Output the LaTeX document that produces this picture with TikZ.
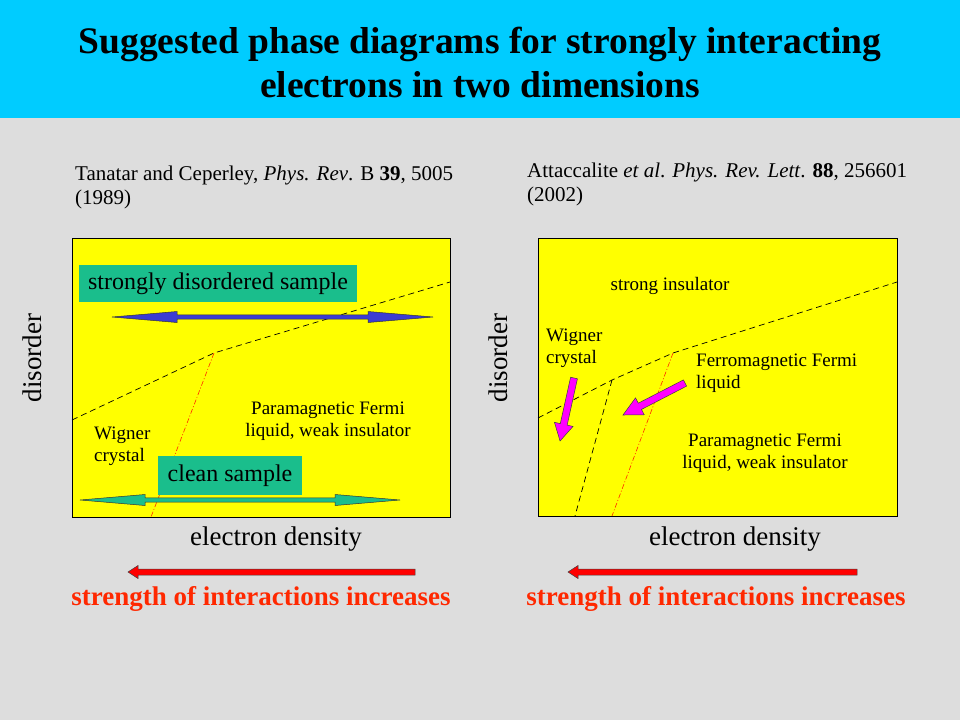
\documentclass[tikz,border=0pt]{standalone}
\usepackage{fontspec}
\setmainfont{Liberation Serif}
\usetikzlibrary{positioning}
\definecolor{bandBlue}{RGB}{0,204,255}
\definecolor{slideGray}{RGB}{221,221,221}
\definecolor{panelYellow}{RGB}{255,255,0}
\definecolor{tagGreen}{RGB}{26,190,140}
\definecolor{arrBlue}{RGB}{60,60,210}
\definecolor{arrMagenta}{RGB}{255,0,255}
\definecolor{arrRed}{RGB}{255,0,0}
\definecolor{hotRed}{RGB}{255,40,0}
\newcommand{\blockarr}[7]{%
  \draw[shift={(#1)}, rotate=#2, fill=#7, draw=black!75, line width=0.5pt]
    (0,#4) -- ({#3-#5},#4) -- ({#3-#5},#6) -- (#3,0) -- ({#3-#5},-#6)
    -- ({#3-#5},-#4) -- (0,-#4) -- cycle;}
\newcommand{\dblarr}[6]{%
  \draw[shift={(#1)}, fill=#6, draw=black!80, line width=0.5pt]
    (0,0) -- (#4,#5) -- (#4,#3) -- ({#2-#4},#3) -- ({#2-#4},#5) -- (#2,0)
    -- ({#2-#4},-#5) -- ({#2-#4},-#3) -- (#4,-#3) -- (#4,-#5) -- cycle;}
\tikzset{
  panel/.style={draw=black, fill=panelYellow, line width=0.7pt},
  tag/.style={fill=tagGreen, minimum height=37pt, inner sep=0pt, font=\fontsize{24}{26}\selectfont},
  lbl/.style={font=\fontsize{19}{22}\selectfont, align=center, inner sep=0pt},
  axis/.style={font=\fontsize{27}{30}\selectfont, inner sep=0pt},
  cite/.style={font=\fontsize{21}{24}\selectfont, align=left, anchor=north west, inner sep=0pt},
  bnd/.style={draw=black, dash pattern=on 6pt off 4pt, line width=0.7pt},
  redbnd/.style={draw=hotRed, dash pattern=on 5pt off 2pt on 1pt off 2pt, line width=0.6pt},
  strength/.style={font=\fontsize{27}{30}\selectfont\bfseries, text=hotRed, inner sep=0pt},
  headline/.style={font=\fontsize{37.5}{45}\selectfont\bfseries, anchor=base, inner sep=0pt}
}
\begin{document}
\begin{tikzpicture}[x=1pt, y=-1pt]
\useasboundingbox (0,0) rectangle (960,720);
\fill[slideGray] (0,0) rectangle (960,720);
\fill[bandBlue] (0,0) rectangle (960,118);
\node[headline] (title1) at (480,53) {Suggested phase diagrams for strongly interacting};
\node[headline] (title2) at (480,97) {electrons in two dimensions};

% left diagram
\node[cite] (citeA) at (75,165.5) {Tanatar and Ceperley, \textit{Phys. Rev}. B \textbf{39}, 5005\\(1989)};
\draw[panel] (72,238) rectangle (450,517);
\coordinate (a1) at (72,420);
\coordinate (a2) at (214,353);
\coordinate (a3) at (450,282);
\coordinate (a4) at (151,517);
\draw[bnd] (a1) -- (a2) -- (a3);
\draw[redbnd] (a2) -- (a4);
\node[tag, minimum width=278pt] (dirty) at (218,283.5) {\raisebox{-2pt}{strongly disordered sample}};
\coordinate (dL) at (112,317);
\dblarr{dL}{321}{2.2}{65}{5.5}{arrBlue}
\node[lbl] (pflA) at (328,421) {Paramagnetic Fermi\\liquid, weak insulator};
\node[lbl, align=left, anchor=west] (wcA) at (94,446) {Wigner\\crystal};
\node[tag, minimum width=144pt, minimum height=39pt] (clean) at (230,475.5) {\raisebox{-2pt}{clean sample}};
\coordinate (cL) at (80,500);
\dblarr{cL}{320}{2.2}{65}{5.5}{tagGreen}
\node[axis, rotate=90] (disA) at (32,358) {disorder};
\node[axis] (edA) at (276,539) {electron density};
\coordinate (rA) at (415,572);
\blockarr{rA}{180}{287}{3}{10}{6.5}{arrRed}
\node[strength] (stA) at (261,599) {strength of interactions increases};

% right diagram
\node[cite] (citeB) at (527,162.5) {Attaccalite \textit{et al}. \textit{Phys. Rev. Lett}. \textbf{88}, 256601\\(2002)};
\draw[panel] (538,238) rectangle (897,516);
\coordinate (b1) at (538,418);
\coordinate (b2) at (612,380);
\coordinate (b3) at (673,353);
\coordinate (b4) at (897,282);
\coordinate (b5) at (575,516);
\coordinate (b6) at (612,516);
\draw[bnd] (b1) -- (b2) -- (b3) -- (b4);
\draw[bnd] (b2) -- (b5);
\draw[redbnd] (b3) -- (b6);
\node[lbl] (siB) at (670,286) {strong insulator};
\node[lbl, align=left, anchor=west] (wcB) at (546,348) {Wigner\\crystal};
\node[lbl, align=left, anchor=west] (ffB) at (696,373) {Ferromagnetic Fermi\\liquid};
\node[lbl] (pflB) at (765,453) {Paramagnetic Fermi\\liquid, weak insulator};
\coordinate (m1) at (574,378);
\coordinate (m2) at (685,383);
\blockarr{m1}{257.5}{64.5}{3.5}{17}{9.5}{arrMagenta}
\blockarr{m2}{207.3}{69.8}{3.5}{19}{9.5}{arrMagenta}
\node[axis, rotate=90] (disB) at (498,358) {disorder};
\node[axis] (edB) at (735,539) {electron density};
\coordinate (rB) at (857,572);
\blockarr{rB}{180}{289}{3}{10}{6.5}{arrRed}
\node[strength] (stB) at (716,599) {strength of interactions increases};
\end{tikzpicture}
\end{document}
